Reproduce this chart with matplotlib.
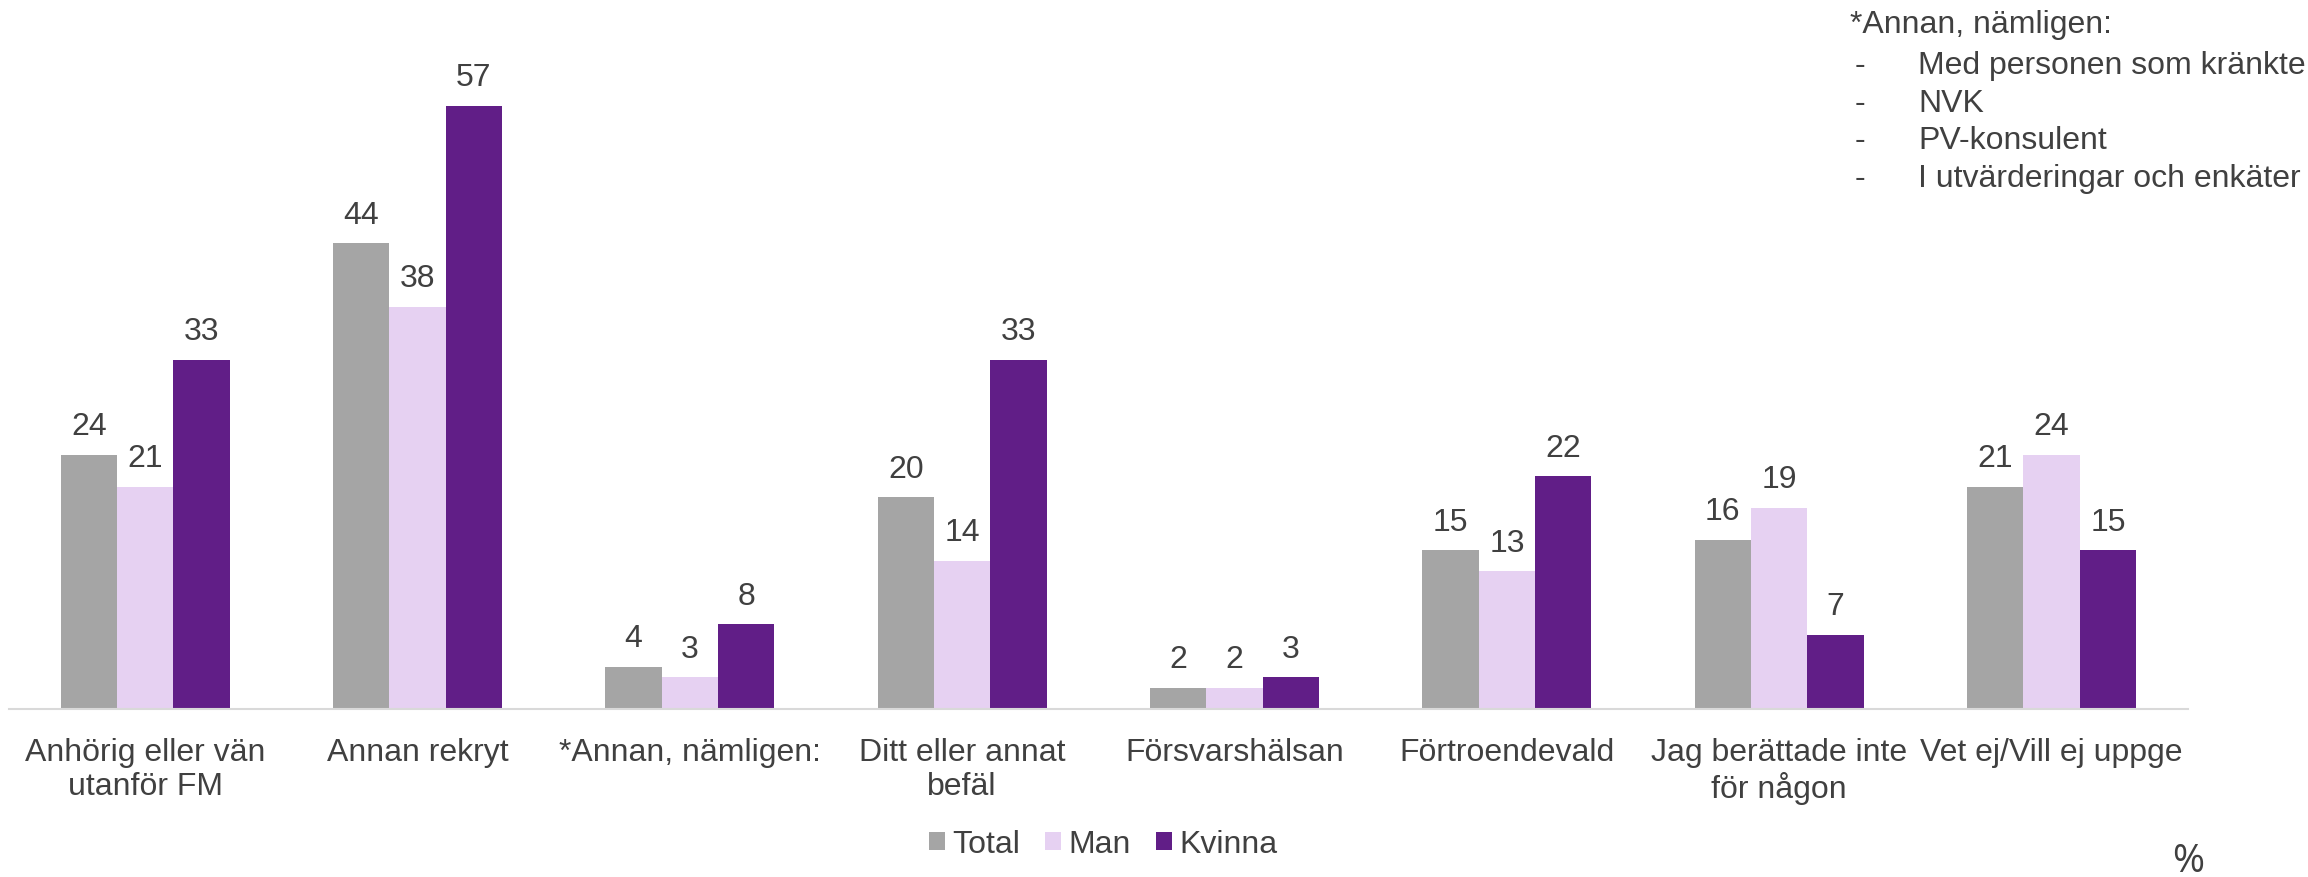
import matplotlib.pyplot as plt
import numpy as np

plt.rcParams['font.family'] = ['Liberation Sans', 'DejaVu Sans']

categories = ["Anhörig eller vän\nutanför FM", "Annan rekryt", "*Annan, nämligen:",
              "Ditt eller annat\nbefäl", "Försvarshälsan", "Förtroendevald",
              "Jag berättade inte\nför någon", "Vet ej/Vill ej uppge"]
total = [24, 44, 4, 20, 2, 15, 16, 21]
man = [21, 38, 3, 14, 2, 13, 19, 24]
kvinna = [33, 57, 8, 33, 3, 22, 7, 15]
series_names = ["Total", "Man", "Kvinna"]
colors = ["#A5A5A5", "#E6D1F2", "#611E87"]
note_title = "*Annan, nämligen:"
note_items = ["Med personen som kränkte", "NVK", "PV-konsulent", "I utvärderingar och enkäter"]

text_color = "#404040"
fs = 23

fig = plt.figure(figsize=(23.08, 8.77), dpi=100)
ax = fig.add_axes([0.0039, 0.1916, 0.944, 0.724])

x = np.arange(len(categories))
w = 0.207
for i, (vals, name, c) in enumerate(zip([total, man, kvinna], series_names, colors)):
    bars = ax.bar(x + (i - 1) * w, vals, w, color=c, label=name)
    ax.bar_label(bars, padding=9, fontsize=fs, color=text_color)

ax.set_xlim(-0.5, len(categories) - 0.5)
ax.set_ylim(0, 60)
ax.set_xticks(x)
ax.set_xticklabels(categories, fontsize=fs, color=text_color, linespacing=1.15)
ax.tick_params(axis='x', length=0, pad=21)
ax.set_yticks([])
for s in ['top', 'right', 'left']:
    ax.spines[s].set_visible(False)
ax.spines['bottom'].set_color('#D9D9D9')
ax.spines['bottom'].set_linewidth(1.5)

leg = fig.legend(loc='center', bbox_to_anchor=(0.478, 0.037), ncol=3, frameon=False,
                 fontsize=fs, handlelength=0.5, handleheight=0.5, handletextpad=0.22,
                 columnspacing=0.8)
for t in leg.get_texts():
    t.set_color(text_color)

fig.text(2188 / 2308, 1 - 862 / 877, "%", fontsize=28, color=text_color, ha='center',
         va='center', family=['Open Sans', 'DejaVu Sans'])

# note in top right corner
fig.text(1850 / 2308, 1 - 25 / 877, note_title, fontsize=fs, color=text_color, va='center')
for k, item in enumerate(note_items):
    y = 1 - (66 + 37.6 * k) / 877
    fig.text(1855 / 2308, y, "-", fontsize=fs, color=text_color, va='center')
    fig.text(1918 / 2308, y, item, fontsize=fs, color=text_color, va='center')

plt.savefig('out.png')
